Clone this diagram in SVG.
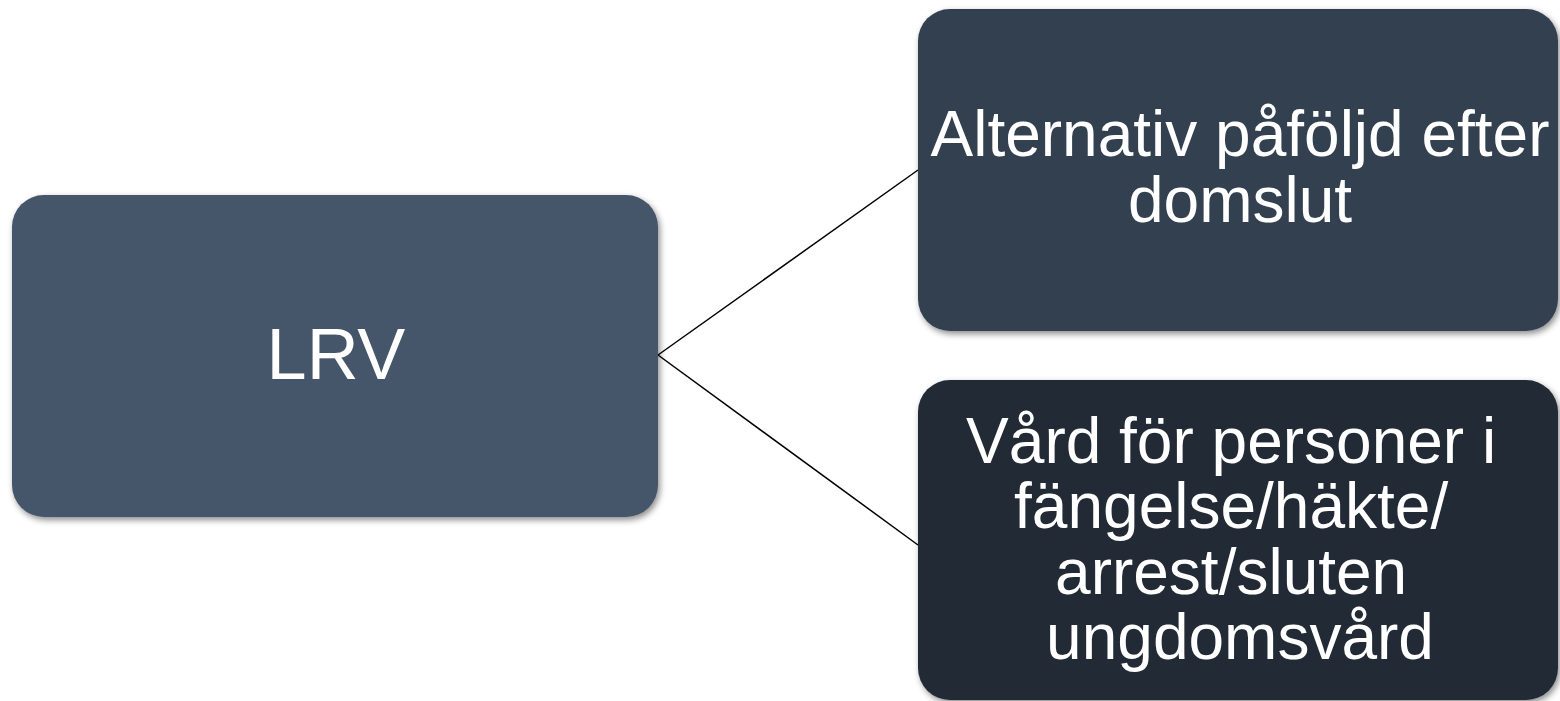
<svg xmlns="http://www.w3.org/2000/svg" width="1560" height="701" viewBox="0 0 1560 701">
<defs>
<filter id="sh" x="-5%" y="-5%" width="112%" height="115%">
<feDropShadow dx="2" dy="3" stdDeviation="3" flood-color="#000" flood-opacity="0.45"/>
</filter>
<style>
.lbl{font-family:"Liberation Sans",Arial,sans-serif;fill:#ffffff;text-anchor:middle}
.con{stroke:#000;stroke-width:1.5;fill:none}
</style>
</defs>
<rect width="1560" height="701" fill="#ffffff"/>
<g id="connectors">
<line class="con" x1="658" y1="355" x2="918" y2="170"/>
<line class="con" x1="658" y1="355" x2="918" y2="545"/>
</g>
<g id="node-lrv">
<rect x="12" y="195" width="646" height="322" rx="32" fill="#44546A" filter="url(#sh)"/>
<text class="lbl" x="336" y="379" font-size="72">LRV</text>
</g>
<g id="node-alternativ">
<rect x="918" y="9" width="640" height="322" rx="32" fill="#333F50" filter="url(#sh)"/>
<text class="lbl" x="1240" y="156" font-size="64">Alternativ påföljd efter</text>
<text class="lbl" x="1240" y="222" font-size="64">domslut</text>
</g>
<g id="node-vard">
<rect x="918" y="380" width="640" height="320" rx="32" fill="#222A35" filter="url(#sh)"/>
<text class="lbl" font-size="64">
<tspan x="1240" y="463">Vård för personer i</tspan>
<tspan x="1240" y="528">fängelse/häkte/</tspan>
<tspan x="1240" y="594">arrest/sluten</tspan>
<tspan x="1240" y="659">ungdomsvård</tspan>
</text>
</g>
</svg>
